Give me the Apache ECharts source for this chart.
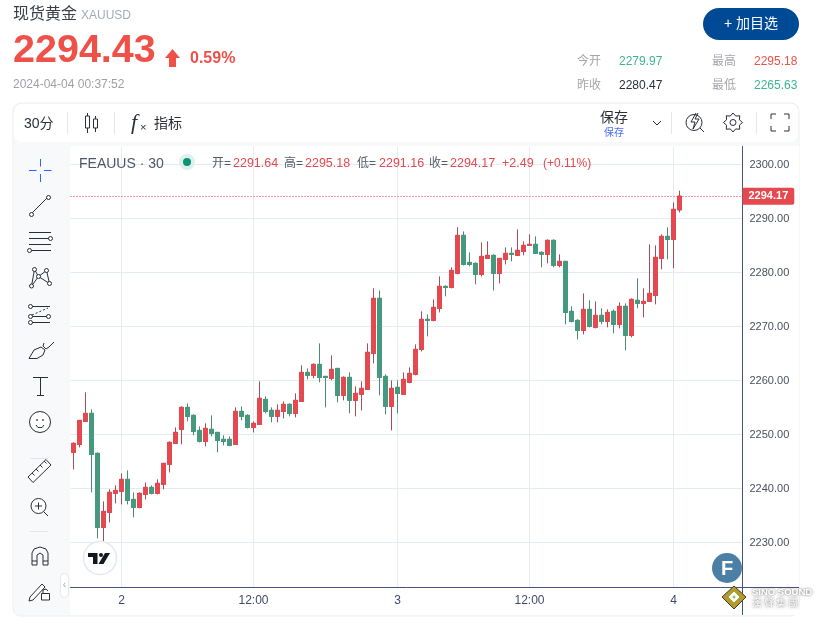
<!DOCTYPE html>
<html>
<head>
<meta charset="utf-8">
<title>现货黄金 XAUUSD</title>
<script src="https://cdn.jsdelivr.net/npm/echarts@6/dist/echarts.min.js"></script>
<style>
html, body { margin: 0; padding: 0; background: #fff; }
#main { width: 820px; height: 619px; }
</style>
</head>
<body>
<div id="main"></div>
<script>
// 30分钟K线
let opens = [2246.73,2248.21,2252.47,2253.95,2246.54,2232.84,2235.62,2239.14,2239.51,2241.73,2238.02,2236.54,2238.95,2240.25,2239.14,2240.80,2244.51,2248.40,2250.99,2255.06,2253.58,2250.80,2248.77,2250.99,2250.43,2249.14,2249.14,2248.21,2254.32,2253.58,2251.36,2251.91,
  2256.54,2254.51,2253.40,2254.32,2255.62,2253.95,2256.17,2261.54,2260.99,2263.02,2260.80,2260.43,2262.28,2257.28,2260.62,2256.36,2257.47,2258.40,2265.06,2275.25,2260.80,2255.25,2258.77,2257.47,2259.69,2261.17,2265.80,2271.36,
  2271.17,2273.40,2277.47,2277.28,2279.88,2286.91,2281.91,2281.73,2279.69,2282.65,2283.21,2279.88,2282.47,2283.58,2283.21,2283.95,2285.06,2285.25,2283.77,2283.40,2285.99,2281.36,2282.10,
  2272.84,2271.17,2269.32,2273.21,2269.88,2272.10,2270.99,2272.84,2270.43,2273.77,2268.40,2274.88,2274.32,2274.69,2275.80,2282.65,2286.73,2286.17,2291.64];
let closes = [2248.40,2252.65,2253.95,2246.36,2232.84,2235.80,2239.32,2239.69,2241.73,2237.84,2236.54,2239.14,2240.25,2239.14,2240.99,2244.69,2248.58,2250.43,2255.06,2253.40,2250.62,2248.77,2251.17,2250.25,2248.95,2248.77,2248.02,2254.32,2253.40,2251.36,2252.10,2256.73,
  2254.32,2253.40,2254.51,2255.62,2253.95,2256.36,2261.54,2260.99,2263.02,2260.62,2260.62,2262.10,2257.28,2260.62,2256.36,2257.65,2258.58,2265.25,2275.25,2260.62,2255.25,2258.58,2257.65,2260.25,2261.36,2265.80,2271.36,2271.17,
  2273.58,2277.47,2277.28,2280.43,2286.91,2281.54,2281.54,2279.69,2283.02,2283.21,2279.88,2282.65,2283.58,2283.40,2284.14,2285.06,2285.25,2283.58,2283.40,2285.99,2281.36,2282.10,2272.65,
  2270.99,2269.32,2273.21,2270.06,2272.10,2270.99,2272.65,2270.43,2273.77,2268.40,2275.06,2274.32,2274.69,2276.17,2282.84,2286.73,2286.17,2291.73,2294.17];
let lows = [2243.58,2247.65,2252.47,2239.32,2230.80,2230.06,2233.77,2237.28,2237.10,2237.10,2234.69,2236.36,2238.02,2238.95,2238.95,2239.88,2243.02,2248.40,2248.21,2252.47,2249.88,2248.58,2247.84,2249.69,2246.73,2248.02,2247.84,2248.21,2252.65,2251.17,2250.43,2251.91,
  2253.95,2252.28,2252.28,2253.02,2253.40,2253.21,2256.17,2260.25,2260.43,2259.69,2255.06,2260.06,2255.99,2256.36,2253.95,2253.40,2254.51,2258.40,2263.21,2257.28,2253.77,2250.80,2253.95,2257.47,2259.51,2260.99,2265.43,2268.21,
  2270.99,2272.65,2275.62,2277.10,2279.69,2281.36,2281.17,2277.84,2279.32,2282.65,2276.73,2278.02,2281.54,2282.10,2283.21,2283.21,2285.06,2283.58,2280.99,2281.73,2280.99,2280.99,2270.43,
  2270.80,2267.65,2268.58,2269.88,2269.69,2270.43,2269.88,2268.77,2269.69,2265.63,2268.02,2273.40,2271.73,2274.69,2274.14,2280.62,2282.47,2280.80,2291.16];
let highs = [2248.58,2252.65,2257.84,2254.69,2246.73,2237.65,2239.88,2240.62,2242.84,2243.40,2239.32,2239.32,2241.17,2240.62,2241.73,2244.69,2248.77,2251.36,2255.25,2255.80,2253.77,2251.54,2252.10,2253.58,2250.43,2249.88,2249.69,2255.06,2255.25,2253.77,2252.47,2259.88,
  2257.10,2255.06,2255.62,2256.17,2255.80,2257.65,2262.84,2262.28,2263.21,2266.91,2260.80,2264.69,2262.28,2260.80,2261.54,2258.95,2259.88,2266.91,2277.10,2276.73,2261.17,2260.06,2260.06,2261.54,2262.47,2266.73,2272.84,2272.28,
  2275.06,2279.32,2277.65,2280.99,2288.40,2287.65,2283.77,2281.91,2285.62,2285.80,2283.40,2282.65,2284.69,2284.69,2288.02,2285.80,2287.10,2286.73,2283.95,2286.17,2286.17,2283.40,2282.10,
  2273.77,2271.36,2276.17,2274.88,2274.69,2273.40,2273.21,2273.21,2274.51,2274.32,2275.25,2278.95,2277.10,2285.25,2285.06,2287.10,2288.40,2293.02,2295.18];

let priceTicks = [2230, 2240, 2250, 2260, 2270, 2280, 2290, 2300];
let timeLabels = ['2', '12:00', '3', '12:00', '4'];
let labelBars = [8, 30, 54, 76, 100];

// 右边留空的位置也算一根K线
let categories = new Array(112).fill('');
labelBars.forEach(function (bar, i) { categories[bar] = timeLabels[i]; });

let upColor = '#E5484F';
let downColor = '#45997F';
let upWick = '#A84C5C';
let downWick = '#4F8A6C';
let ink = '#2A2E39';
let cnFont = '"Liberation Sans", "Noto Sans CJK SC", sans-serif';

let fullData = opens.map(function (o, i) { return [o, closes[i], lows[i], highs[i]]; });
let bodyData = opens.map(function (o, i) {
    return [o, closes[i], Math.min(o, closes[i]), Math.max(o, closes[i])];
});

function T(x, y, text, font, fill, align) {
    return { type: 'text', x: x, y: y, z: 20, silent: true,
        style: { text: text, font: font + ' ' + cnFont, fill: fill, textAlign: align || 'left', textVerticalAlign: 'middle' } };
}
function L(x1, y1, x2, y2, color, width, dash) {
    return { type: 'line', z: 20, silent: true, shape: { x1: x1, y1: y1, x2: x2, y2: y2 },
        style: { stroke: color || ink, lineWidth: width || 1, lineDash: dash } };
}
function C(cx, cy, r, stroke, fill, width) {
    return { type: 'circle', z: 20, silent: true, shape: { cx: cx, cy: cy, r: r },
        style: { stroke: stroke || ink, fill: fill || '#fff', lineWidth: width === undefined ? 1 : width } };
}
function R(x, y, w, h, fill, stroke, r, z) {
    return { type: 'rect', z: z === undefined ? 20 : z, silent: true, shape: { x: x, y: y, width: w, height: h, r: r || 0 },
        style: { fill: fill, stroke: stroke } };
}
function P(points, stroke, width) {
    return { type: 'polyline', z: 20, silent: true, shape: { points: points },
        style: { stroke: stroke || ink, lineWidth: width || 1, fill: null } };
}
function G(points, fill, stroke) {
    return { type: 'polygon', z: 20, silent: true, shape: { points: points },
        style: { fill: fill, stroke: stroke } };
}

let els = [];

// 页面底板
els.push(R(13, 103, 786, 513, '#F8F9FA', '#ECEFF3', 8, -3));
els.push(R(14, 104, 784, 38, '#fff', null, 8, -2));
els.push(R(70, 146, 729, 469, '#fff', null, 0, -2));

// 头部
els.push(T(13, 15, '现货黄金', '16px', '#3A3F4B'));
els.push(T(81, 16, 'XAUUSD', '12px', '#A3AAB8'));
els.push(T(13, 51, '2294.43', 'bold 39.5px', '#EF5047'));
els.push(G([[172.5, 49], [180, 58], [176, 58], [176, 67], [169, 67], [169, 58], [165, 58]], '#EF5047'));
els.push(T(190, 59, '0.59%', 'bold 16px', '#EF5047'));
els.push(T(13, 85, '2024-04-04 00:37:52', '12px', '#A0A0A6'));
els.push(R(703, 8, 96, 32, '#004A95', null, 16));
els.push(T(751, 24, '+ 加目选', '14px', '#fff', 'center'));

els.push(T(577, 62, '今开', '12px', '#A5A5AB'));
els.push(T(619, 62, '2279.97', '12px', '#3DB393'));
els.push(T(712, 62, '最高', '12px', '#A5A5AB'));
els.push(T(754, 62, '2295.18', '12px', '#EF5047'));
els.push(T(577, 86, '昨收', '12px', '#A5A5AB'));
els.push(T(619, 86, '2280.47', '12px', '#2A2E39'));
els.push(T(712, 86, '最低', '12px', '#A5A5AB'));
els.push(T(754, 86, '2265.63', '12px', '#3DB393'));

// 顶部工具条
els.push(T(24, 124, '30分', '14px', ink));
[67, 114, 671, 756].forEach(function (x) { els.push(L(x + 0.5, 112, x + 0.5, 134, '#E4E6EE')); });
els.push(L(87.5, 113, 87.5, 133), R(85.5, 116, 4, 12, '#fff', ink, 0));
els.push(L(95.5, 116, 95.5, 132), R(93.5, 119, 4, 9, '#fff', ink, 0));
els.push({ type: 'text', x: 131, y: 123, z: 20, silent: true,
    style: { text: 'f', font: 'italic 22px "Liberation Serif"', fill: ink, textVerticalAlign: 'middle' } });
els.push(T(140, 128, '×', '11px', ink));
els.push(T(154, 124, '指标', '14px', ink));
els.push(T(600, 118, '保存', '14px', ink));
els.push(T(604, 133, '保存', '10px', '#4A6CF7'));
els.push(P([[653, 121], [657, 125], [661, 121]]));
els.push(C(694, 122.5, 8), L(700, 128, 704, 132));
els.push(P([[696, 113], [691, 122], [695, 122], [693, 129], [699, 119], [695, 119], [698, 113]]));
let gear = [];
for (let k = 0; k < 16; k++) {
    let a = k / 16 * Math.PI * 2, rr = k % 2 ? 7 : 9.5;
    gear.push([733 + rr * Math.cos(a), 122.5 + rr * Math.sin(a)]);
}
els.push(G(gear, '#fff', ink), C(733, 122.5, 3));
els.push(P([[771, 119], [771, 114], [776, 114]]), P([[784, 114], [789, 114], [789, 119]]));
els.push(P([[771, 126], [771, 131], [776, 131]]), P([[784, 131], [789, 131], [789, 126]]));

// 左侧工具栏
let blue = '#2962FF';
els.push(L(29, 170.5, 36.5, 170.5, blue), L(44, 170.5, 51.5, 170.5, blue));
els.push(L(40.5, 159, 40.5, 166.5, blue), L(40.5, 174, 40.5, 182, blue));
els.push(L(32, 213, 47, 198), C(31.5, 214.5, 2), C(48.5, 197.5, 2));
[232.5, 238.5, 244.5, 250.5].forEach(function (y) { els.push(L(29, y, 51, y)); });
els.push(C(50.5, 238.5, 2), C(29.5, 250.5, 2));
els.push(P([[31.5, 286], [34.5, 269.5], [38.5, 276.5], [46.5, 270.5], [49.5, 283.5], [38.5, 276.5], [31.5, 286]]));
els.push(C(31.5, 286, 2), C(34.5, 269.5, 2), C(38.5, 276.5, 2), C(46.5, 270.5, 2), C(49.5, 283.5, 2));
els.push(L(30, 306.5, 50, 306.5), L(30, 316.5, 50, 316.5), L(30, 322.5, 50, 322.5), L(32, 315, 48, 308, ink, 1, [2, 2]));
els.push(C(30.5, 306.5, 2), C(30.5, 316.5, 2), C(30.5, 322.5, 2), C(48.5, 316.5, 2));
els.push(P([[29, 358.5], [34, 350], [41, 347], [45, 350], [43, 355], [37, 358.5], [29, 358.5]]));
els.push(P([[44, 343], [43, 346], [46, 349], [49, 347], [54, 342]]));
els.push(L(33, 377.5, 48, 377.5), L(40.5, 377.5, 40.5, 395), L(37, 395.5, 44, 395.5));
els.push(C(40, 422, 10.5), C(37, 420, 0.5), C(43, 420, 0.5), P([[36, 425], [38, 427.5], [42, 427.5], [44, 425]]));
els.push(L(30, 458.5, 48, 458.5, '#E3E5EE'), L(30, 531.5, 48, 531.5, '#E3E5EE'));
els.push(G([[28, 477], [46, 459.5], [51, 465], [33, 482.5]], '#fff', ink));
[[32, 473], [36, 469], [40, 465], [44, 461]].forEach(function (p) { els.push(L(p[0], p[1], p[0] + 2.5, p[1] + 2.5)); });
els.push(C(38.5, 506, 7.5), L(35, 506, 42, 506), L(38.5, 502.5, 38.5, 509.5), L(44, 512, 48, 516));
els.push(P([[32, 565], [32, 553], [34, 549], [40, 547], [46, 549], [48, 553], [48, 565]]));
els.push(P([[37, 565], [37, 555], [40, 553], [43, 555], [43, 565]]));
els.push(L(32, 561, 37, 561), L(43, 561, 48, 561), L(32, 565, 37, 565), L(43, 565, 48, 565));
els.push(G([[30, 597], [42, 584], [45, 587], [33, 600], [29, 601]], '#fff', ink));
els.push(R(41.5, 593.5, 8, 6.5, '#fff', ink), P([[43, 593], [43, 590], [46, 589], [48, 591]]));
els.push(R(60.5, 573.5, 8, 24, '#fff', '#E6E8EE', 4), T(64.5, 585, '‹', '10px', '#A0A3AE', 'center'));

// 图内图例
els.push(T(79, 164, 'FEAUUS · 30', '14px', '#4E5568'));
els.push(C(187, 162, 8, 'rgba(0,0,0,0)', '#DDF0EB', 0), C(187, 162, 4, '#0B9478', '#0B9478', 0));
els.push(T(212, 164, '开=', '12px', '#555B6B'), T(233, 164, '2291.64', '12.5px', upColor));
els.push(T(284, 164, '高=', '12px', '#555B6B'), T(305, 164, '2295.18', '12.5px', upColor));
els.push(T(357, 164, '低=', '12px', '#555B6B'), T(379, 164, '2291.16', '12.5px', upColor));
els.push(T(429, 164, '收=', '12px', '#555B6B'), T(450, 164, '2294.17', '12.5px', upColor));
els.push(T(502, 164, '+2.49', '12.5px', upColor), T(543, 164, '(+0.11%)', '12px', upColor));

// 坐标轴线延长到面板边缘
els.push(L(742.5, 587, 742.5, 615, '#46547A'), L(742, 587.5, 799, 587.5, '#46547A'));

// TV标志、F标志和水印
els.push(C(100, 558, 16.5, '#E6E8F0', '#fff', 1.5));
els.push(G([[88, 553], [97.5, 553], [97.5, 564], [93, 564], [93, 557], [88, 557]], '#131722'));
els.push(C(101, 555, 2, '#131722', '#131722', 0));
els.push(G([[105, 553], [110, 553], [103.5, 564], [98.5, 564]], '#131722'));
els.push(C(727, 568, 15, '#4C7FA6', '#4C7FA6', 0));
els.push({ type: 'text', x: 727, y: 569, z: 21, silent: true,
    style: { text: 'F', font: 'bold 20px ' + cnFont, fill: '#fff', textAlign: 'center', textVerticalAlign: 'middle' } });
els.push(G([[734, 586], [746, 597], [734, 609], [722, 597]], '#B49A2C', '#4A3A20'));
els.push(G([[734, 591], [740, 597], [734, 603], [728, 597]], '#fff', '#8FB14A'));
els.push(C(734, 597, 1.5, '#9DBF4E', '#9DBF4E', 0));
els.push({ type: 'text', x: 752, y: 592, z: 21, silent: true,
    style: { text: 'SINO SOUND', font: 'bold 9.5px ' + cnFont, fill: '#fff', textVerticalAlign: 'middle', textShadowColor: '#555', textShadowBlur: 3 } });
els.push({ type: 'text', x: 752, y: 603, z: 21, silent: true,
    style: { text: '漢 聲 集 團', font: '9.5px ' + cnFont, fill: '#fff', textVerticalAlign: 'middle', textShadowColor: '#555', textShadowBlur: 3 } });

let option = {
    animation: false,
    backgroundColor: '#fff',
    graphic: { elements: els },
    grid: { left: 70.5, right: 77.5, top: 146.5, bottom: 32 },
    xAxis: {
        type: 'category',
        data: categories,
        boundaryGap: true,
        axisLine: { lineStyle: { color: '#46547A', width: 1 } },
        axisTick: { show: false, alignWithLabel: true },
        axisLabel: {
            color: '#3F4A68',
            fontSize: 12,
            fontFamily: 'Liberation Sans',
            margin: 8,
            interval: function (index, value) { return value !== ''; }
        },
        splitLine: {
            show: true,
            alignWithLabel: true,
            interval: function (index, value) { return value !== ''; },
            lineStyle: { color: '#E4ECF3', width: 1 }
        }
    },
    yAxis: {
        type: 'value',
        position: 'right',
        min: 2221.80,
        max: 2303.37,
        axisLine: { show: true, lineStyle: { color: '#46547A', width: 1 } },
        axisTick: { show: false, customValues: priceTicks },
        axisLabel: {
            color: '#4A4F5C',
            fontSize: 11,
            fontFamily: 'Liberation Sans',
            margin: 7,
            padding: [2, 0, 0, 0],
            customValues: priceTicks,
            formatter: function (v) { return v.toFixed(2); }
        },
        splitLine: { show: true, lineStyle: { color: '#E4ECF3', width: 1 } }
    },
    series: [{
        name: 'wick',
        type: 'candlestick',
        barWidth: 4,
        data: fullData,
        itemStyle: { color: upWick, color0: downWick, borderColor: upWick, borderColor0: downWick, borderWidth: 1 },
        markLine: {
            silent: true,
            symbol: 'none',
            data: [{ yAxis: closes[closes.length - 1], lineStyle: { color: '#F23645', type: [1, 2], width: 1 } }],
            label: {
                position: 'end',
                distance: 0,
                formatter: function (p) { return p.value.toFixed(2); },
                color: '#fff',
                fontSize: 11,
                fontWeight: 'bold',
                fontFamily: 'Liberation Sans',
                backgroundColor: '#E5484F',
                borderRadius: [0, 2, 2, 0],
                padding: [3, 6, 3, 6]
            }
        }
    }, {
        name: 'body',
        type: 'candlestick',
        barWidth: 4,
        data: bodyData,
        itemStyle: { color: upColor, color0: downColor, borderColor: upColor, borderColor0: downColor, borderWidth: 1 }
    }]
};

let myChart = echarts.init(document.getElementById('main'));
myChart.setOption(option);
</script>
</body>
</html>
